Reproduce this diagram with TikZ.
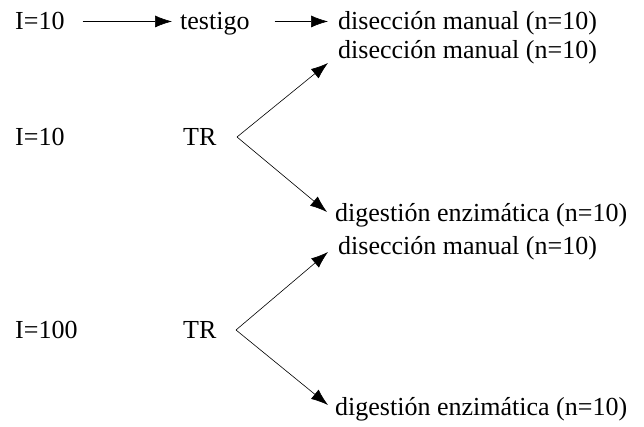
\documentclass[tikz,border=0pt]{standalone}
\usepackage{fontspec}
\setmainfont{Liberation Serif}
\usetikzlibrary{arrows.meta}
\begin{document}
\begin{tikzpicture}[x=1pt,y=1pt,
  lbl/.style={anchor=base west,inner sep=0pt,font=\fontsize{26}{28}\selectfont},
  arr/.style={-{Latex[length=17pt,width=12pt]},line width=0.6pt}]
\useasboundingbox (0,0) rectangle (644,427);
\node[lbl] (i1) at (15,397) {I=10};
\node[lbl] (t) at (180,397) {testigo};
\node[lbl] (d1) at (338,397) {disección manual (n=10)};
\node[lbl] (d2) at (338,368) {disección manual (n=10)};
\node[lbl] (i2) at (15,281) {I=10};
\node[lbl] (tr1) at (183,281) {TR};
\node[lbl] (g1) at (335,205) {digestión enzimática (n=10)};
\node[lbl] (d3) at (338,172) {disección manual (n=10)};
\node[lbl] (i3) at (15,88) {I=100};
\node[lbl] (tr2) at (183,88) {TR};
\node[lbl] (g2) at (335,11) {digestión enzimática (n=10)};
\coordinate (v1) at (237,290);
\coordinate (v2) at (236,97);
\coordinate (u1) at (328,364);
\coordinate (l1) at (327,215);
\coordinate (u2) at (328,175);
\coordinate (l2) at (328,22);
\draw[arr,shorten <=18pt,shorten >=8pt] (i1.east) -- (i1.east -| t.west);
\draw[arr,shorten <=25pt,shorten >=10pt] (i1.east -| t.east) -- (i1.east -| d1.west);
\draw[arr] (v1) -- (u1);
\draw[arr] (v1) -- (l1);
\draw[arr] (v2) -- (u2);
\draw[arr] (v2) -- (l2);
\end{tikzpicture}
\end{document}
